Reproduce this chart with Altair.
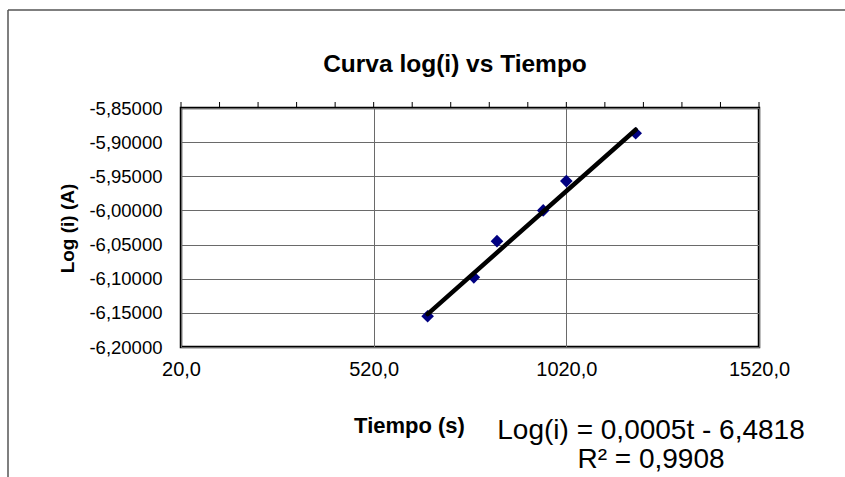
import altair as alt
import pandas as pd

# Measured points: time (s) and log of current (A)
tiempo = [660, 780, 840, 960, 1020, 1200]
log_i = [-6.155, -6.098, -6.045, -6.000, -5.957, -5.887]

# Linear trendline coefficients and fit quality
pendiente = 0.0005
intercepto = -6.4818
r2 = 0.9908

# Axis ticks
x_major = [20, 520, 1020, 1520]
x_minor = list(range(20, 1521, 100))
y_ticks = [-6.20, -6.15, -6.10, -6.05, -6.00, -5.95, -5.90, -5.85]

titulo = "Curva log(i) vs Tiempo"

W, H = 578, 239
FONT = "Liberation Sans"

puntos = pd.DataFrame({"t": tiempo, "logi": log_i})
tramo = pd.DataFrame({"t": [min(tiempo), max(tiempo)]})
marcas = pd.DataFrame({"t": x_minor})

x_scale = alt.Scale(domain=[20, 1520], nice=False, zero=False)
y_scale = alt.Scale(domain=[-6.2, -5.85], nice=False, zero=False)

x_axis = alt.Axis(
    orient="bottom", values=x_major, grid=True, gridColor="#6a6a6a", gridWidth=1,
    ticks=False, domain=False, labelFont=FONT, labelFontSize=20, labelColor="black",
    labelPadding=12, labelFlush=False,
    labelExpr="replace(format(datum.value, '.1f'), '.', ',')",
    title="Tiempo (s)", titleFont=FONT, titleFontSize=22, titleFontWeight="bold",
    titleColor="black", titleX=228, titleY=85, titleAlign="center",
    titleBaseline="alphabetic",
)
y_axis = alt.Axis(
    values=y_ticks, grid=True, gridColor="#6a6a6a", gridWidth=1, ticks=False,
    domain=False, labelFont=FONT, labelFontSize=18.5, labelColor="black",
    labelPadding=19, labelFlush=False,
    labelExpr="'-' + replace(format(abs(datum.value), '.5f'), '.', ',')",
    title="Log (i) (A)", titleFont=FONT, titleFontSize=19, titleFontWeight="bold",
    titleColor="black", titleX=-114, titleY=120, titleAlign="center",
    titleBaseline="middle", titleAngle=-90,
)

X = alt.X("t:Q", scale=x_scale, axis=x_axis)

puntos_layer = alt.Chart(puntos).mark_point(
    shape="diamond", filled=True, size=160, color="#000080", opacity=1
).encode(
    x=X,
    y=alt.Y("logi:Q", scale=y_scale, axis=y_axis),
)

# Trendline drawn from the stated equation
linea = alt.Chart(tramo).transform_calculate(
    yfit=f"{pendiente} * datum.t + ({intercepto})"
).mark_line(color="black", strokeWidth=4.5, strokeCap="round").encode(
    x=X,
    y=alt.Y("yfit:Q", scale=y_scale, axis=y_axis),
)

# Minor ticks along the top edge
top_ticks = alt.Chart(marcas).mark_rule(color="black", strokeWidth=1).encode(
    x=X,
    y=alt.value(-6),
    y2=alt.value(0),
)

uno = pd.DataFrame({"a": [0]})

encabezado = alt.Chart(uno).mark_text(
    font=FONT, fontSize=24.5, fontWeight="bold", color="black", align="center",
    baseline="alphabetic",
).encode(x=alt.value(274), y=alt.value(-36), text=alt.value(titulo))

ecuacion = alt.Chart(uno).mark_text(
    font=FONT, fontSize=28, color="black", align="center", baseline="alphabetic",
    lineHeight=29,
).encode(
    x=alt.value(470), y=alt.value(331),
    text=alt.value([
        f"Log(i) = {str(pendiente).replace('.', ',')}t - {str(abs(intercepto)).replace('.', ',')}",
        f"R² = {str(r2).replace('.', ',')}",
    ]),
)

# Outer frame of the chart area
marco = alt.Chart(uno).mark_rule(color="#555555", strokeWidth=1.5).encode(
    x=alt.value(-173), x2=alt.value(700), y=alt.value(-98),
)
marco_izq = alt.Chart(uno).mark_rule(color="#555555", strokeWidth=1.5).encode(
    x=alt.value(-173), y=alt.value(-98), y2=alt.value(400),
)

chart = alt.layer(
    puntos_layer, linea, top_ticks, marco, marco_izq, encabezado, ecuacion
).properties(
    width=W, height=H,
    autosize=alt.AutoSizeParams(type="none"),
    padding={"left": 181, "top": 108, "right": 86, "bottom": 130},
    background="white",
).configure_view(stroke="black", strokeWidth=2.5)

chart.save("out.html", embed_options={"renderer": "svg", "actions": False})
